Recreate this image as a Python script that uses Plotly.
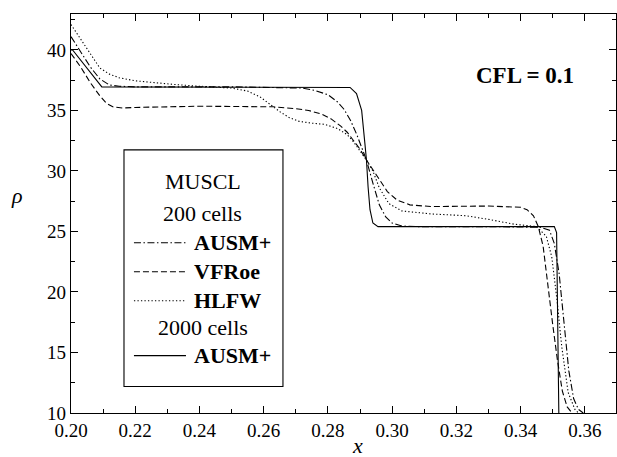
import plotly.graph_objects as go

# AUSM+ 2000 cells (solid)
x_ausm2000 = [0.2000, 0.2005, 0.2096, 0.2200, 0.2860, 0.2869, 0.2889, 0.2905, 0.2915, 0.2920,
              0.2925, 0.2931, 0.2940, 0.2956, 0.2980, 0.3300, 0.3505, 0.3512, 0.3516, 0.3519]
y_ausm2000 = [40.0, 40.0, 36.95, 36.95, 36.95, 36.9, 36.4, 35.0, 32.3, 30.9,
              28.7, 26.8, 25.7, 25.4, 25.4, 25.4, 25.4, 24.9, 17.0, 10.0]

# AUSM+ 200 cells (dash-dot)
x_ausm200 = [0.2000, 0.2030, 0.2060, 0.2090, 0.2120, 0.2150, 0.2200, 0.2500, 0.2650, 0.2720,
             0.2760, 0.2800, 0.2830, 0.2850, 0.2870, 0.2890, 0.2910, 0.2920, 0.2940, 0.2960,
             0.2980, 0.3000, 0.3030, 0.3080, 0.3300, 0.3460, 0.3490, 0.3505, 0.3520, 0.3535,
             0.3550, 0.3565, 0.3580, 0.3595]
y_ausm200 = [41.1, 39.9, 38.6, 37.6, 37.1, 37.0, 36.95, 36.95, 36.92, 36.85,
             36.65, 36.3, 35.7, 35.1, 34.2, 33.0, 31.6, 30.9, 29.0, 27.2,
             26.2, 25.7, 25.45, 25.4, 25.4, 25.35, 25.1, 24.0, 21.5, 17.3,
             13.5, 11.2, 10.3, 10.0]

# VFRoe 200 cells (dashed)
x_vfroe = [0.2000, 0.2030, 0.2060, 0.2090, 0.2110, 0.2130, 0.2160, 0.2200, 0.2400, 0.2630,
           0.2700, 0.2740, 0.2780, 0.2810, 0.2840, 0.2860, 0.2880, 0.2900, 0.2920, 0.2940,
           0.2960, 0.2985, 0.3015, 0.3055, 0.3120, 0.3300, 0.3400, 0.3420, 0.3440, 0.3455,
           0.3470, 0.3485, 0.3500, 0.3515, 0.3530, 0.3545, 0.3560]
y_vfroe = [39.7, 38.6, 37.3, 36.2, 35.6, 35.3, 35.2, 35.25, 35.35, 35.3,
           35.15, 35.0, 34.7, 34.3, 33.7, 33.2, 32.5, 31.8, 30.9, 30.1,
           29.2, 28.3, 27.6, 27.2, 27.06, 27.1, 27.0, 26.8, 26.3, 25.4,
           23.8, 20.4, 17.3, 14.3, 11.8, 10.5, 10.0]

# HLFW 200 cells (dotted)
x_hlfw = [0.2000, 0.2030, 0.2060, 0.2090, 0.2120, 0.2150, 0.2200, 0.2250, 0.2320, 0.2400,
          0.2500, 0.2550, 0.2590, 0.2620, 0.2650, 0.2680, 0.2710, 0.2750, 0.2790, 0.2830,
          0.2860, 0.2880, 0.2900, 0.2920, 0.2940, 0.2960, 0.2990, 0.3030, 0.3120, 0.3230,
          0.3300, 0.3380, 0.3450, 0.3480, 0.3497, 0.3513, 0.3528, 0.3548, 0.3569, 0.3580]
y_hlfw = [42.1, 40.9, 39.6, 38.5, 38.0, 37.7, 37.45, 37.3, 37.15, 37.0,
          36.85, 36.6, 36.1, 35.5, 34.9, 34.4, 34.1, 33.95, 33.85, 33.5,
          33.0, 32.4, 31.7, 30.9, 30.0, 28.6, 27.3, 26.7, 26.45, 26.3,
          26.0, 25.6, 25.4, 24.6, 22.9, 19.4, 15.5, 11.7, 10.3, 10.0]

x_ticks = [0.20, 0.22, 0.24, 0.26, 0.28, 0.30, 0.32, 0.34, 0.36]
y_ticks = [10, 15, 20, 25, 30, 35, 40]

legend_heads = ["MUSCL", "200 cells", "2000 cells"]
legend_names = ["AUSM+", "VFRoe", "HLFW", "AUSM+"]

DOT = "1.3px,2.2px"
DASH = "6px,3px"
DASHDOT = "7px,2.5px,1.5px,2.5px"
SERIF = "Liberation Serif, Times New Roman, serif"

series = [
    (x_ausm200, y_ausm200, DASHDOT),
    (x_vfroe, y_vfroe, DASH),
    (x_hlfw, y_hlfw, DOT),
    (x_ausm2000, y_ausm2000, "solid"),
]

fig = go.Figure()
for xs, ys, dash in series:
    fig.add_trace(go.Scatter(x=xs, y=ys, mode="lines",
                             line=dict(color="black", width=1.1, dash=dash),
                             showlegend=False, hoverinfo="skip"))

# Legend box (drawn manually)
fig.add_shape(type="rect", xref="x", yref="y", x0=0.2165, x1=0.2660, y0=12.19, y1=31.74,
              line=dict(color="black", width=1.1), fillcolor="white", layer="above")
rows_y = [24.07, 21.67, 19.28, 14.74]
dashes = [DASHDOT, DASH, DOT, "solid"]
for yy, dsh, name in zip(rows_y, dashes, legend_names):
    fig.add_shape(type="line", xref="x", yref="y", x0=0.2196, x1=0.2358, y0=yy, y1=yy,
                  line=dict(color="black", width=1.1, dash=dsh), layer="above")
    fig.add_annotation(x=0.2378, y=yy, xref="x", yref="y", text="<b>" + name + "</b>",
                       showarrow=False, xanchor="left", yanchor="middle",
                       font=dict(family=SERIF, size=22, color="black"))
for txt, yy in zip(legend_heads, [29.1, 26.45, 17.1]):
    fig.add_annotation(x=0.2411, y=yy, xref="x", yref="y", text=txt, showarrow=False,
                       xanchor="center", yanchor="middle",
                       font=dict(family=SERIF, size=22, color="black"))

fig.add_annotation(x=0.3415, y=37.9, xref="x", yref="y", text="<b>CFL = 0.1</b>",
                   showarrow=False, xanchor="center", yanchor="middle",
                   font=dict(family=SERIF, size=23, color="black"))

# axis titles as annotations
fig.add_annotation(x=0.2893, y=0, xref="x", yref="paper", yshift=-32, text="<i>x</i>",
                   showarrow=False, xanchor="center", yanchor="middle",
                   font=dict(family=SERIF, size=22, color="black"))
fig.add_annotation(x=0, y=0.545, xref="paper", yref="paper", xshift=-54, text="<i>ρ</i>",
                   showarrow=False, xanchor="center", yanchor="middle",
                   font=dict(family=SERIF, size=22, color="black"))

axis_common = dict(showgrid=False, zeroline=False, showline=True, linecolor="black",
                   linewidth=1.3, mirror="allticks", ticks="inside", ticklen=7,
                   tickwidth=1.2, tickcolor="black",
                   tickfont=dict(family=SERIF, size=19, color="black"))

fig.update_xaxes(range=[0.20, 0.3697], tickvals=x_ticks, tickformat=".2f",
                 minor=dict(dtick=0.01, tick0=0.20, ticks="inside", ticklen=4,
                            tickwidth=1.1, tickcolor="black"),
                 **axis_common)
fig.update_yaxes(range=[10, 42.97], tickvals=y_ticks,
                 minor=dict(dtick=2.5, tick0=10, ticks="inside", ticklen=4,
                            tickwidth=1.1, tickcolor="black"),
                 **axis_common)

fig.update_layout(width=617, height=457, margin=dict(l=71, r=1, t=14, b=44),
                  plot_bgcolor="white", paper_bgcolor="white", showlegend=False,
                  font=dict(family=SERIF))

fig.write_html("out.html", config={"displayModeBar": False},
               post_script="document.body.style.margin='0';document.body.style.overflow='hidden';")
